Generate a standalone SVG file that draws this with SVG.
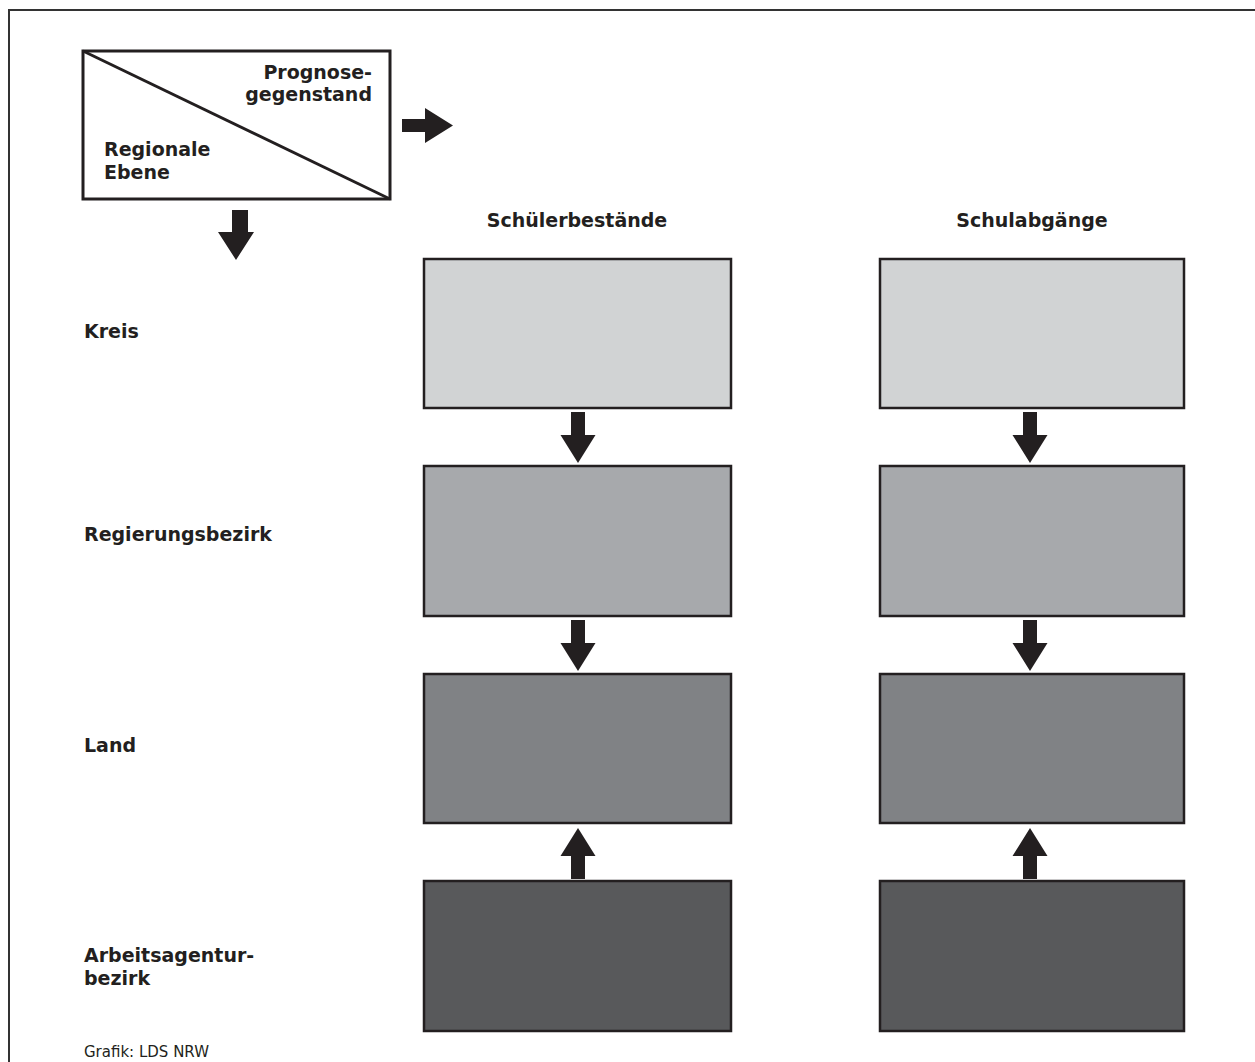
<svg xmlns="http://www.w3.org/2000/svg" width="1255" height="1062" viewBox="0 0 1255 1062">
<style>
.lbl{font-family:"DejaVu Sans","Liberation Sans",sans-serif;font-weight:700;font-size:19px;fill:#231f20}
.src{font-family:"DejaVu Sans","Liberation Sans",sans-serif;font-weight:400;font-size:15px;fill:#231f20}
.box{stroke:#231f20;stroke-width:2.5}
.arr{fill:#231f20}
</style>
<defs>
<path id="down" d="M-7,0 H7 V23 H17.5 L0,51 L-17.5,23 H-7 Z"/>
</defs>
<rect width="1255" height="1062" fill="#ffffff"/>
<path d="M9,1062 V10 H1255" fill="none" stroke="#333333" stroke-width="2"/>

<g id="legend">
<rect x="83" y="51" width="307" height="148" fill="#ffffff" stroke="#231f20" stroke-width="3"/>
<line x1="83" y1="51" x2="390" y2="199" stroke="#231f20" stroke-width="3"/>
<text class="lbl" x="372" y="79" text-anchor="end">Prognose-</text>
<text class="lbl" x="372" y="101" text-anchor="end">gegenstand</text>
<text class="lbl" x="104" y="156">Regionale</text>
<text class="lbl" x="104" y="179">Ebene</text>
</g>

<g id="legend-arrows" class="arr">
<path d="M402,119 H425 V108 L453,125.5 L425,143 V132 H402 Z"/>
<path d="M232,210 H248 V232 H254 L236,260 L218,232 H232 Z"/>
</g>

<g id="row-labels">
<text class="lbl" x="84" y="338">Kreis</text>
<text class="lbl" x="84" y="541">Regierungsbezirk</text>
<text class="lbl" x="84" y="752">Land</text>
<text class="lbl" x="84" y="962">Arbeitsagentur-</text>
<text class="lbl" x="84" y="985">bezirk</text>
</g>

<g id="col-schuelerbestaende">
<text class="lbl" x="577" y="227" text-anchor="middle">Schülerbestände</text>
<rect id="sb-kreis" class="box" x="424" y="259" width="307" height="149" fill="#d1d3d4"/>
<rect id="sb-regbez" class="box" x="424" y="466" width="307" height="150" fill="#a7a9ac"/>
<rect id="sb-land" class="box" x="424" y="674" width="307" height="149" fill="#808285"/>
<rect id="sb-aab" class="box" x="424" y="881" width="307" height="150" fill="#58595b"/>
</g>

<g id="col-schulabgaenge">
<text class="lbl" x="1032" y="227" text-anchor="middle">Schulabgänge</text>
<rect id="sa-kreis" class="box" x="880" y="259" width="304" height="149" fill="#d1d3d4"/>
<rect id="sa-regbez" class="box" x="880" y="466" width="304" height="150" fill="#a7a9ac"/>
<rect id="sa-land" class="box" x="880" y="674" width="304" height="149" fill="#808285"/>
<rect id="sa-aab" class="box" x="880" y="881" width="304" height="150" fill="#58595b"/>
</g>

<g id="connectors" class="arr">
<use href="#down" x="578" y="412"/>
<use href="#down" x="578" y="620"/>
<use href="#down" transform="translate(578,879) scale(1,-1)"/>
<use href="#down" x="1030" y="412"/>
<use href="#down" x="1030" y="620"/>
<use href="#down" transform="translate(1030,879) scale(1,-1)"/>
</g>

<text class="src" x="84" y="1057">Grafik: LDS NRW</text>
</svg>
